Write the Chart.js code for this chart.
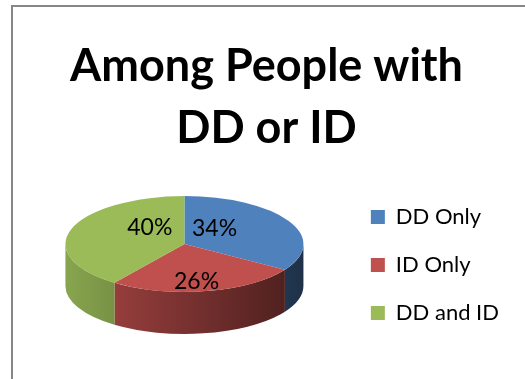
<!DOCTYPE html>
<html>
<head>
<meta charset="utf-8">
<script src="https://cdn.jsdelivr.net/npm/chart.js@4/dist/chart.umd.min.js"></script>
<style>
  html, body { margin: 0; padding: 0; background: #fff; }
  #wrap { width: 525px; height: 379px; position: relative; }
</style>
</head>
<body>
<div id="wrap"><canvas id="pie"></canvas></div>
<script>
/* ---------- data ---------- */
const categories = ['DD Only', 'ID Only', 'DD and ID'];
const shares     = [34, 26, 40];
const colors     = ['#4F81BD', '#C0504D', '#9BBB59'];
const titleLines = ['Among People with', 'DD or ID'];

/* ---------- 3D look ---------- */
const TILT  = 0.403;   // vertical squash of the top face
const DEPTH = 42;      // height of the side wall, px
const labelNudge = [[-22, -4], [1, 14], [22, -9]];

function shade(hex, f) {
  const n = parseInt(hex.slice(1), 16);
  const r = Math.round(((n >> 16) & 255) * f);
  const g = Math.round(((n >> 8) & 255) * f);
  const b = Math.round((n & 255) * f);
  return `rgb(${r},${g},${b})`;
}

const pie3d = {
  id: 'pie3d',
  beforeDraw(chart) {
    const { ctx } = chart;
    ctx.save();
    ctx.fillStyle = '#fff';
    ctx.fillRect(0, 0, chart.width, chart.height);
    // chart frame (only top and left edges fall inside the canvas)
    ctx.strokeStyle = '#878787';
    ctx.lineWidth = 2;
    ctx.strokeRect(12, 6, chart.width + 20, chart.height + 20);
    ctx.restore();
  },
  beforeDatasetsDraw(chart) {
    const { ctx } = chart;
    const arcs = chart.getDatasetMeta(0).data;
    const { x, y, outerRadius: R } = arcs[0];
    const cy = y - DEPTH / 2;

    // side walls, only the front half (0..PI) shows
    arcs.forEach((arc, i) => {
      const grad = ctx.createLinearGradient(x - R, 0, x + R, 0);
      grad.addColorStop(0, shade(colors[i], 0.88));
      grad.addColorStop(1, shade(colors[i], 0.38));
      for (const off of [0, 2 * Math.PI, -2 * Math.PI]) {
        const a0 = Math.max(arc.startAngle + off, 0);
        const a1 = Math.min(arc.endAngle + off, Math.PI);
        if (a1 <= a0) continue;
        ctx.beginPath();
        ctx.ellipse(x, cy, R, R * TILT, 0, a0, a1);
        ctx.ellipse(x, cy + DEPTH, R, R * TILT, 0, a1, a0, true);
        ctx.closePath();
        ctx.fillStyle = grad;
        ctx.fill();
      }
    });

    // squash the top face into an ellipse
    ctx.save();
    ctx.translate(0, cy);
    ctx.scale(1, TILT);
    ctx.translate(0, -y);
  },
  afterDatasetsDraw(chart) {
    const { ctx } = chart;
    ctx.restore();

    const arcs = chart.getDatasetMeta(0).data;
    ctx.save();
    ctx.font = '23px Lato';
    ctx.fillStyle = '#000';
    ctx.textAlign = 'center';
    ctx.textBaseline = 'middle';
    arcs.forEach((arc, i) => {
      const mid = (arc.startAngle + arc.endAngle) / 2;
      const r   = arc.outerRadius / 2;
      const cy  = arc.y - DEPTH / 2;
      const lx  = arc.x + Math.cos(mid) * r + labelNudge[i][0];
      const ly  = cy + Math.sin(mid) * r * TILT + labelNudge[i][1];
      ctx.fillText(shares[i] + '%', lx, ly);
    });
    ctx.restore();
  },
};

Chart.defaults.font.family = 'Lato';
Chart.defaults.color = '#000';

new Chart(document.getElementById('pie'), {
  type: 'pie',
  data: {
    labels: categories,
    datasets: [{
      data: shares,
      backgroundColor: colors,
      borderWidth: 0,
      radius: 119,
      clip: false,
    }],
  },
  options: {
    responsive: true,
    maintainAspectRatio: false,
    animation: false,
    events: [],
    layout: { padding: { left: 24, right: 16, top: 0, bottom: 9 } },
    plugins: {
      title: {
        display: true,
        text: titleLines,
        font: { size: 45, weight: 'bold', lineHeight: '62px' },
        padding: { top: 35, bottom: 1 },
      },
      legend: {
        position: 'right',
        fullSize: false,
        labels: {
          boxWidth: 14,
          boxHeight: 14,
          padding: 26,
          font: { size: 22 },
        },
      },
      tooltip: { enabled: false },
    },
  },
  plugins: [pie3d],
});
</script>
</body>
</html>
